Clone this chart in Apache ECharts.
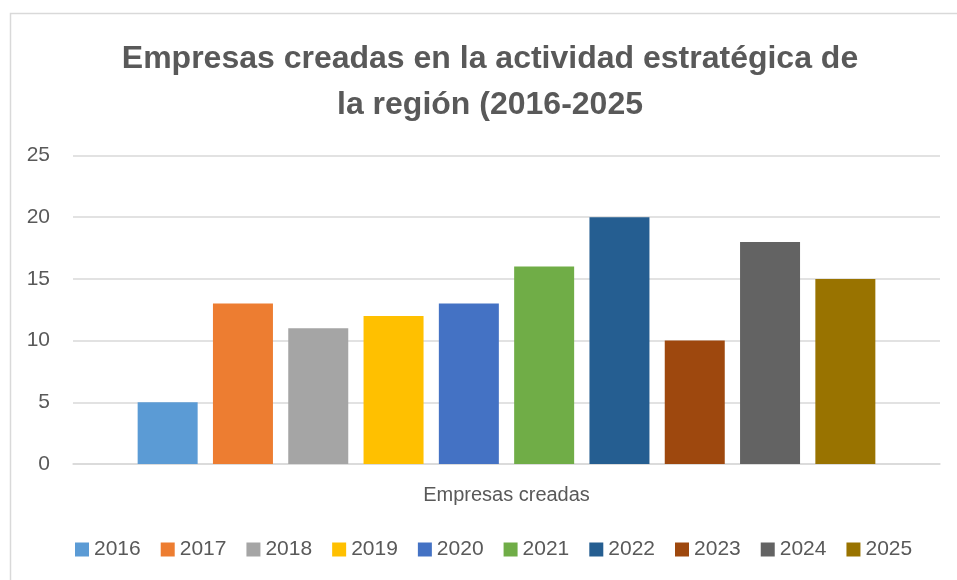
<!DOCTYPE html>
<html>
<head>
<meta charset="utf-8">
<script src="https://cdn.jsdelivr.net/npm/echarts@6/dist/echarts.min.js"></script>
<style>
  html, body { margin: 0; padding: 0; background: #fff; }
  #chart { width: 957px; height: 580px; }
</style>
</head>
<body>
<div id="chart"></div>
<script>
// datos
var categorias = ['Empresas creadas'];
var anios = ['2016', '2017', '2018', '2019', '2020', '2021', '2022', '2023', '2024', '2025'];
var valores = [5, 13, 11, 12, 13, 16, 20, 10, 18, 15];
var colores = ['#5B9BD5', '#ED7D31', '#A5A5A5', '#FFC000', '#4472C4',
               '#70AD47', '#255E91', '#9E480E', '#636363', '#997300'];

var fuente = "'Liberation Sans', sans-serif";
var gris = '#595959';

var chart = echarts.init(document.getElementById('chart'));

var series = [];
for (var i = 0; i < anios.length; i++) {
  series.push({
    name: anios[i],
    type: 'bar',
    data: [valores[i]],
    barWidth: 60,
    barGap: '25.5%',
    itemStyle: { color: colores[i] }
  });
}

var option = {
  animation: false,
  color: colores,
  title: {
    text: 'Empresas creadas en la actividad estratégica de\nla región (2016-2025',
    left: 485,
    top: 31,
    textAlign: 'center',
    textStyle: {
      fontFamily: fuente,
      fontSize: 32,
      fontWeight: 'bold',
      color: gris,
      lineHeight: 46
    }
  },
  graphic: [{
    type: 'rect',
    left: 8,
    top: 11,
    shape: { width: 1000, height: 620 },
    style: { fill: 'none', stroke: '#d9d9d9', lineWidth: 1.5 },
    silent: true
  }],
  legend: {
    data: anios,
    left: 70,
    top: 534,
    itemWidth: 14,
    itemHeight: 14,
    itemGap: 20,
    icon: 'rect',
    textStyle: { fontFamily: fuente, fontSize: 21, color: gris }
  },
  grid: {
    left: 73,
    right: 17,
    top: 155.5,
    bottom: 116
  },
  xAxis: {
    type: 'category',
    data: categorias,
    axisLine: { show: true, lineStyle: { color: '#d9d9d9', width: 1.5 } },
    axisTick: { show: false },
    axisLabel: { margin: 21, fontFamily: fuente, fontSize: 20, color: gris }
  },
  yAxis: {
    type: 'value',
    min: 0,
    max: 25,
    interval: 5,
    axisLine: { show: false },
    axisTick: { show: false },
    axisLabel: { margin: 23, fontFamily: fuente, fontSize: 21, color: gris },
    splitLine: { lineStyle: { color: '#d9d9d9', width: 1.5 } }
  },
  series: series
};

chart.setOption(option);
</script>
</body>
</html>
